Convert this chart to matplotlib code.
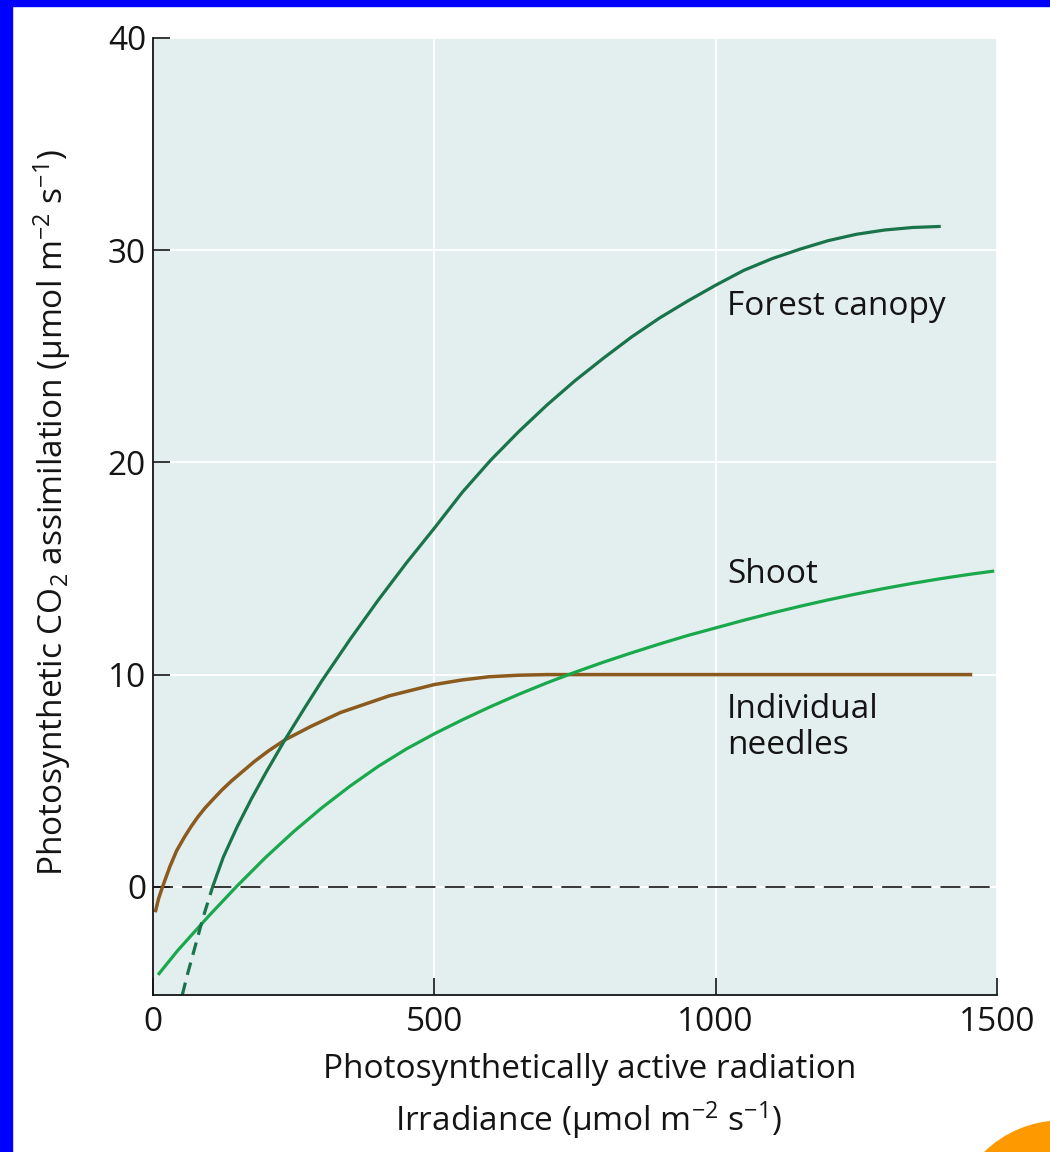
import matplotlib
matplotlib.use("Agg")
import matplotlib.pyplot as plt
from matplotlib.patches import Rectangle, Ellipse

plt.rcParams['font.family'] = ['Open Sans', 'DejaVu Sans']
plt.rcParams['mathtext.fontset'] = 'custom'
plt.rcParams['mathtext.rm'] = 'Open Sans'
plt.rcParams['mathtext.it'] = 'Open Sans:italic'
plt.rcParams['mathtext.bf'] = 'Open Sans:bold'

# values
# forest canopy: the first points (below zero) are drawn dashed
canopy_x = [52, 62, 74, 89, 106, 125, 150, 175, 200, 235, 270, 300, 350, 400, 450, 500, 550, 600,
            650, 700, 750, 800, 850, 900, 950, 1000, 1050, 1100, 1150, 1200, 1250, 1300, 1350, 1400]
canopy_y = [-5.1, -4.05, -2.9, -1.45, 0, 1.4, 2.85, 4.15, 5.35, 6.95, 8.45, 9.7, 11.65, 13.5, 15.25, 16.9, 18.6, 20.1,
            21.45, 22.7, 23.85, 24.9, 25.9, 26.8, 27.6, 28.35, 29.05, 29.6, 30.05, 30.45, 30.75, 30.95, 31.07, 31.12]
n_dashed = 5

shoot_x = [9, 44, 100, 148, 200, 250, 300, 350, 400, 450, 500, 550, 600, 650, 700, 750, 800, 850,
           900, 950, 1000, 1050, 1100, 1150, 1200, 1250, 1300, 1350, 1400, 1450, 1495]
shoot_y = [-4.15, -3.0, -1.35, 0, 1.38, 2.6, 3.72, 4.74, 5.67, 6.49, 7.21, 7.87, 8.49, 9.07, 9.61, 10.11, 10.58, 11.02,
           11.44, 11.84, 12.2, 12.56, 12.9, 13.22, 13.52, 13.8, 14.06, 14.3, 14.52, 14.72, 14.88]

needles_x = [4, 10, 17, 30, 42, 56, 68, 80, 92, 106, 122, 140, 160, 180, 205, 235, 280, 333, 420, 500, 550, 598, 650, 700, 1000, 1456]
needles_y = [-1.2, -0.55, 0, 0.95, 1.7, 2.35, 2.85, 3.3, 3.7, 4.1, 4.55, 5.0, 5.45, 5.9, 6.4, 6.93, 7.55, 8.21, 9.0, 9.53, 9.75, 9.9, 9.97, 10.0, 10.0, 10.0]

x_ticks = [0, 500, 1000, 1500]
y_ticks = [0, 10, 20, 30, 40]

c_canopy = '#1a744b'
c_shoot = '#1aa84c'
c_needles = '#8b5a1e'
c_text = '#141414'

fig = plt.figure(figsize=(10.5, 11.52), dpi=100)
fig.patch.set_facecolor('white')

# blue frame on left and top, orange blob bottom right
fig.patches.append(Rectangle((0, 0), 12 / 1050, 1, transform=fig.transFigure, color='#0000ff', zorder=0))
fig.patches.append(Rectangle((0, 1 - 6 / 1152), 1, 6 / 1152, transform=fig.transFigure, color='#0000ff', zorder=0))
fig.patches.append(Ellipse((1062 / 1050, 1 - 1232 / 1152), 222 / 1050, 222 / 1152,
                           transform=fig.transFigure, color='#ff9900', zorder=0))

ax = fig.add_axes([153 / 1050, 1 - 995 / 1152, 844 / 1050, 957 / 1152])
ax.set_facecolor('#e3eeee')
ax.set_xlim(0, 1500)
ax.set_ylim(-5.1, 40)

for s in ['top', 'right']:
    ax.spines[s].set_visible(False)
for s in ['left', 'bottom']:
    ax.spines[s].set_linewidth(1.3)
    ax.spines[s].set_color(c_text)

ax.set_xticks(x_ticks)
ax.set_yticks(y_ticks)
ax.tick_params(direction='in', length=12.5, width=1.2, colors=c_text, labelsize=24)
ax.tick_params(axis='y', pad=5)
ax.tick_params(axis='x', pad=8)
ax.grid(True, color='white', linewidth=1.3)
ax.set_axisbelow(True)

ax.axhline(0, color=c_text, linewidth=1.2, dashes=(12, 5.5))

ax.plot(needles_x, needles_y, color=c_needles, linewidth=2.5, solid_capstyle='butt')
ax.plot(shoot_x, shoot_y, color=c_shoot, linewidth=2.3, solid_capstyle='butt')
ax.plot(canopy_x[n_dashed - 1:], canopy_y[n_dashed - 1:], color=c_canopy, linewidth=2.3, solid_capstyle='butt')
ax.plot(canopy_x[:n_dashed], canopy_y[:n_dashed], color=c_canopy, linewidth=2.3, dashes=(4, 2.5))

lab = dict(fontsize=24, color=c_text, ha='left', va='center')
ax.text(1020, 27.35, 'Forest canopy', **lab)
ax.text(1020, 14.7, 'Shoot', **lab)
ax.text(1020, 7.5, 'Individual\nneedles', linespacing=1.1, **lab)

fig.text(52 / 1050, 1 - 512 / 1152,
         r'Photosynthetic CO$_2$ assimilation (µmol m$^{-2}$ s$^{-1}$)',
         rotation=90, ha='center', va='center', fontsize=24, color=c_text)
fig.text(590 / 1050, 1 - 1070 / 1152, 'Photosynthetically active radiation',
         ha='center', va='center', fontsize=24, color=c_text)
fig.text(588 / 1050, 1 - 1120 / 1152, r'Irradiance (µmol m$^{-2}$ s$^{-1}$)',
         ha='center', va='center', fontsize=24, color=c_text)

fig.savefig('out.png', dpi=100)
